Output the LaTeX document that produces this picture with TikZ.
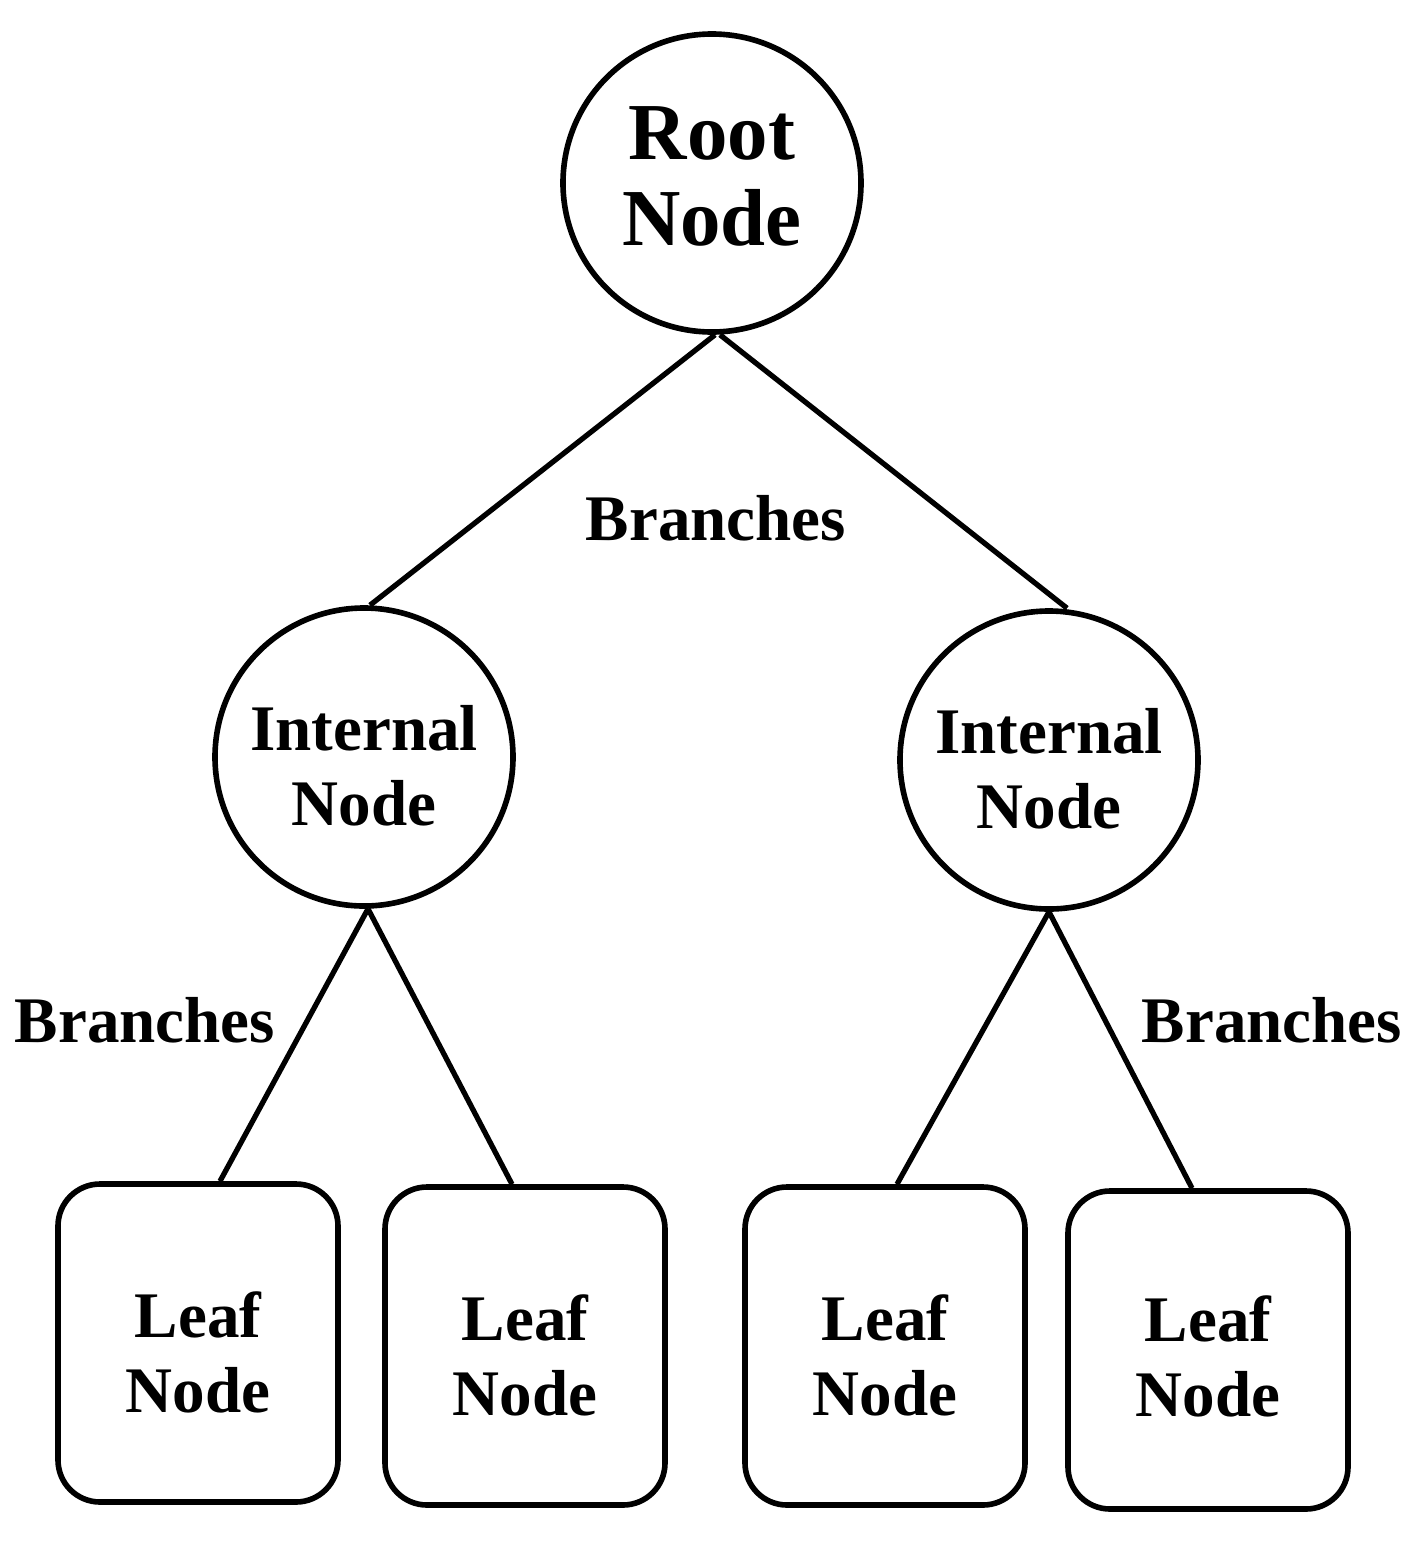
\documentclass[tikz,border=0pt]{standalone}
\usepackage{fontspec}
\setmainfont{Liberation Serif}
\newcommand{\twoline}[3]{\raisebox{#3}[0pt][0pt]{\begin{tabular}{@{}c@{}}#1\\#2\end{tabular}}}
\begin{document}
\begin{tikzpicture}[x=1cm,y=1cm,
  treecircle/.style={draw=black,circle,line width=1.6pt,minimum size=2.98cm,inner sep=0pt,
    font=\bfseries\fontsize{18.5}{21.5}\selectfont},
  leafbox/.style={draw=black,rectangle,rounded corners=0.42cm,line width=1.6pt,minimum width=2.8cm,minimum height=3.18cm,
    inner sep=0pt,font=\bfseries\fontsize{18.5}{21.5}\selectfont},
  branch/.style={line width=1.5pt,black},
  blabel/.style={font=\bfseries\fontsize{18.5}{21.5}\selectfont,inner sep=0pt}]
\useasboundingbox (0,0) rectangle (14.22,-15.44);
\node[treecircle,font=\bfseries\fontsize{23}{24.5}\selectfont] (root) at (7.12,-1.83) {\twoline{Root}{Node}{-0.24cm}};
\node[treecircle] (intL) at (3.64,-7.57) {\twoline{Internal}{Node}{-0.31cm}};
\node[treecircle] (intR) at (10.49,-7.60) {\twoline{Internal}{Node}{-0.31cm}};
\node[leafbox] (leaf1) at (1.98,-13.43) {\twoline{Leaf}{Node}{-0.32cm}};
\node[leafbox] (leaf2) at (5.25,-13.46) {\twoline{Leaf}{Node}{-0.32cm}};
\node[leafbox] (leaf3) at (8.85,-13.46) {\twoline{Leaf}{Node}{-0.32cm}};
\node[leafbox] (leaf4) at (12.08,-13.50) {\twoline{Leaf}{Node}{-0.29cm}};
\draw[branch] ([xshift=0.3mm]root.south) -- ([xshift=0.6mm]intL.north);
\draw[branch] ([xshift=0.8mm]root.south) -- ([xshift=1.8mm]intR.north);
\draw[branch] ([xshift=0.4mm]intL.south) -- ([xshift=2.2mm]leaf1.north);
\draw[branch] ([xshift=0.4mm]intL.south) -- ([xshift=-1.3mm]leaf2.north);
\draw[branch] (intR.south) -- ([xshift=1.2mm]leaf3.north);
\draw[branch] (intR.south) -- ([xshift=-1.6mm]leaf4.north);
\node[blabel] (b1) at (7.16,-5.18) {Branches};
\node[blabel] (b2) at (1.45,-10.20) {Branches};
\node[blabel] (b3) at (12.72,-10.20) {Branches};
\end{tikzpicture}
\end{document}
